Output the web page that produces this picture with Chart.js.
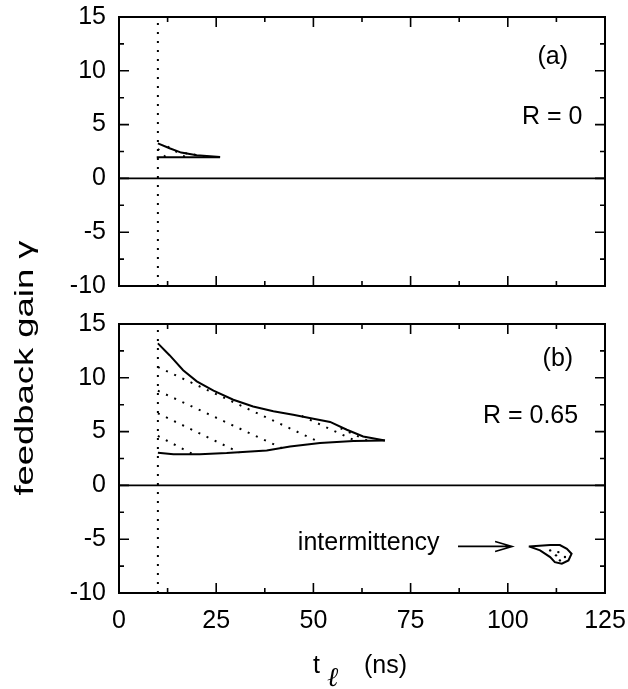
<!DOCTYPE html>
<html><head><meta charset="utf-8">
<script src="https://cdn.jsdelivr.net/npm/chart.js@4.4.0/dist/chart.umd.min.js"></script>
<style>
html,body{margin:0;padding:0;background:#fff;}
#wrap{position:relative;width:628px;height:689px;background:#fff;}
canvas{position:absolute;left:0;top:0;}
</style></head><body>
<div id="wrap">
<canvas id="cb" width="628" height="689"></canvas>
<canvas id="ca" width="628" height="300"></canvas>
</div>
<script>
const FONT = '"Liberation Sans", Arial, Helvetica, sans-serif';
const xTicks = [0, 25, 50, 75, 100, 125];
const yTicks = [-10, -5, 0, 5, 10, 15];
const vLineT = 10;

// panel (a), R = 0
const aUpperT = [10, 13, 16, 20, 26];
const aUpperG = [3.26, 2.8, 2.4, 2.15, 1.98];
const aLowerT = [9.7, 26];
const aLowerG = [1.96, 1.96];
const aHatchT0 = [10, 12.5, 17];
const aHatchG0 = [2.75, 2.95, 2.35];
const aHatchT1 = [12, 17, 23];
const aHatchG1 = [1.98, 2.0, 2.0];

// panel (b), R = 0.65
const bUpperT = [10, 13, 16.5, 20, 24.3, 29.4, 34.5, 39.7, 44.8, 50, 54.3, 58.6, 62.8, 68.4];
const bUpperG = [13.2, 12.1, 10.7, 9.67, 8.8, 7.96, 7.34, 6.9, 6.57, 6.2, 5.9, 5.17, 4.55, 4.18];
const bLowerT = [10, 14, 20.8, 27.7, 38, 44, 51.7, 60.3, 68.4];
const bLowerG = [3.04, 2.9, 2.9, 3.0, 3.25, 3.62, 3.93, 4.12, 4.18];
const bHatchT0 = [10, 10, 10, 10, 47, 57];
const bHatchG0 = [4.6, 6.7, 8.8, 11.0, 6.45, 5.3];
const bHatchT1 = [19, 31, 42, 52, 61, 64];
const bHatchG1 = [2.9, 3.05, 3.45, 3.95, 4.12, 4.15];

// intermittency island
const iT = [105.4, 110.9, 113.4, 115.2, 116.4, 115.6, 113.9, 112.1, 110.9, 108.3, 105.4];
const iG = [-5.67, -5.55, -5.55, -5.9, -6.35, -6.97, -7.28, -7.13, -6.66, -6.04, -5.67];
const iDotT = [110.9, 113.0, 114.7, 113.4, 112.4];
const iDotG = [-6.04, -6.2, -6.66, -6.97, -6.5];
const arrowT = [87.2, 101.1];
const arrowG = [-5.67, -5.67];

const pts = (T, G) => T.map((t, i) => ({x: t, y: G[i]}));
const solid = (T, G) => ({data: pts(T, G), showLine: true, borderColor: '#000', borderWidth: 2, pointRadius: 0, fill: false, tension: 0});
const dotted = (T, G) => ({data: pts(T, G), showLine: true, borderColor: '#000', borderWidth: 2, borderDash: [2, 7], borderCapStyle: 'butt', pointRadius: 0, fill: false});
function hatch(T0, G0, T1, G1) {
  return T0.map((t, i) => dotted([t, T1[i]], [G0[i], G1[i]]));
}
const vline = () => dotted([vLineT, vLineT], [yTicks[0], yTicks[yTicks.length - 1]]);

const panelPlugin = {
  id: 'panel',
  afterDatasetsDraw(chart, args, opts) {
    const ctx = chart.ctx, xs = chart.scales.x, ys = chart.scales.y, a = chart.chartArea;
    ctx.save();
    ctx.strokeStyle = '#000';
    // zero line
    ctx.lineWidth = 1.6;
    ctx.beginPath();
    ctx.moveTo(a.left, ys.getPixelForValue(0));
    ctx.lineTo(a.right, ys.getPixelForValue(0));
    ctx.stroke();
    // ticks
    ctx.lineWidth = 1.6;
    const major = 10, minor = 5;
    ctx.beginPath();
    for (let i = 0; i < xTicks.length; i++) {
      const vals = [[xTicks[i], major]];
      if (i < xTicks.length - 1) vals.push([(xTicks[i] + xTicks[i + 1]) / 2, minor]);
      for (const [v, L] of vals) {
        const px = xs.getPixelForValue(v);
        ctx.moveTo(px, a.bottom); ctx.lineTo(px, a.bottom - L);
        ctx.moveTo(px, a.top); ctx.lineTo(px, a.top + L);
      }
    }
    for (let i = 0; i < yTicks.length; i++) {
      const vals = [[yTicks[i], major]];
      if (i < yTicks.length - 1) vals.push([(yTicks[i] + yTicks[i + 1]) / 2, minor]);
      for (const [v, L] of vals) {
        const py = ys.getPixelForValue(v);
        ctx.moveTo(a.left, py); ctx.lineTo(a.left + L, py);
        ctx.moveTo(a.right, py); ctx.lineTo(a.right - L, py);
      }
    }
    ctx.stroke();
    // frame
    ctx.lineWidth = 2;
    ctx.strokeRect(a.left, a.top, a.right - a.left, a.bottom - a.top);
    // labels
    ctx.fillStyle = '#000';
    ctx.textBaseline = 'middle';
    for (const l of (opts.labels || [])) {
      ctx.font = (l.size || 25) + 'px ' + FONT;
      ctx.textAlign = l.align || 'right';
      ctx.fillText(l.text, xs.getPixelForValue(l.t), ys.getPixelForValue(l.g));
    }
    // arrow
    if (opts.arrow) {
      const x0 = xs.getPixelForValue(arrowT[0]), x1 = xs.getPixelForValue(arrowT[1]);
      const y0 = ys.getPixelForValue(arrowG[0]);
      ctx.lineWidth = 1.6;
      ctx.beginPath();
      ctx.moveTo(x0, y0); ctx.lineTo(x1, y0);
      ctx.moveTo(x1 - 17, y0 - 5); ctx.lineTo(x1, y0); ctx.lineTo(x1 - 17, y0 + 5);
      ctx.stroke();
    }
    // axis titles
    if (opts.titles) {
      ctx.textAlign = 'left';
      ctx.textBaseline = 'alphabetic';
      ctx.font = '25px ' + FONT;
      ctx.fillText('t', 313, 673);
      ctx.fillText('(ns)', 364, 673);
      ctx.font = 'italic 27px "DejaVu Serif", "Liberation Serif", serif';
      ctx.fillText('\u2113', 327, 686);
      ctx.save();
      ctx.translate(33, 368);
      ctx.rotate(-Math.PI / 2);
      ctx.scale(1.4, 1);
      ctx.textAlign = 'center';
      ctx.font = '26px ' + FONT;
      ctx.fillText('feedback gain \u03b3', 0, 0);
      ctx.restore();
    }
    ctx.restore();
  }
};

function options(showX, padTop, padBottom, xH, panelOpts) {
  return {
    responsive: false, animation: false,
    layout: {padding: {left: 0, right: 23, top: padTop, bottom: padBottom}},
    plugins: {legend: {display: false}, tooltip: {enabled: false}, panel: panelOpts},
    scales: {
      x: {
        type: 'linear', min: xTicks[0], max: xTicks[xTicks.length - 1],
        grid: {display: false, drawTicks: false}, border: {display: false},
        ticks: {display: showX, padding: 13, color: '#000', font: {size: 25, family: FONT}},
        afterBuildTicks: ax => { ax.ticks = xTicks.map(v => ({value: v})); },
        afterFit: ax => { ax.height = xH; ax.paddingLeft = 0; ax.paddingRight = 0; }
      },
      y: {
        type: 'linear', min: yTicks[0], max: yTicks[yTicks.length - 1],
        grid: {display: false, drawTicks: false}, border: {display: false},
        ticks: {padding: 13, color: '#000', font: {size: 25, family: FONT}},
        afterBuildTicks: ax => { ax.ticks = yTicks.map(v => ({value: v})); },
        afterFit: ax => { ax.width = 119; ax.paddingTop = 0; ax.paddingBottom = 0; }
      }
    }
  };
}

new Chart(document.getElementById('ca'), {
  type: 'scatter',
  data: {datasets: [
    vline(),
    solid(aUpperT, aUpperG),
    solid(aLowerT, aLowerG),
    ...hatch(aHatchT0, aHatchG0, aHatchT1, aHatchG1)
  ]},
  options: options(false, 17, 14, 0, {labels: [
    {text: '(a)', t: 115.5, g: 11.3},
    {text: 'R = 0', t: 119.2, g: 5.7}
  ]}),
  plugins: [panelPlugin]
});

new Chart(document.getElementById('cb'), {
  type: 'scatter',
  data: {datasets: [
    vline(),
    solid(bUpperT, bUpperG),
    solid(bLowerT, bLowerG),
    ...hatch(bHatchT0, bHatchG0, bHatchT1, bHatchG1),
    solid(iT, iG),
    {data: pts(iDotT, iDotG), showLine: false, pointRadius: 1.2, pointBackgroundColor: '#000', pointBorderWidth: 0}
  ]},
  options: options(true, 324, 0, 96, {
    labels: [
      {text: '(b)', t: 116.8, g: 11.7},
      {text: 'R = 0.65', t: 118.1, g: 6.4},
      {text: 'intermittency', t: 46, g: -5.4, align: 'left'}
    ],
    arrow: true, titles: true
  }),
  plugins: [panelPlugin]
});
</script>
</body></html>
